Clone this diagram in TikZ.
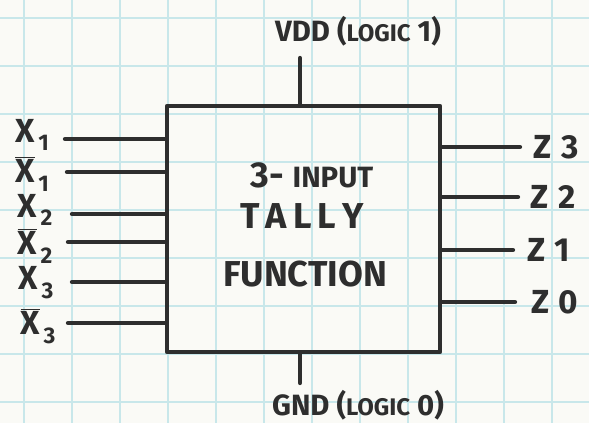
\documentclass[tikz,border=0pt]{standalone}
\usepackage{fontspec}
\setmainfont{Fira Sans}
\definecolor{paper}{HTML}{FAFAF6}
\definecolor{gridc}{HTML}{C8E7EA}
\definecolor{inkc}{HTML}{2E2E2E}
\begin{document}
\begin{tikzpicture}[x=0.75pt,y=-0.75pt,
  ink/.style={draw=inkc, line width=3.2pt, line cap=round, line join=round},
  lbl/.style={text=inkc, inner sep=0pt, font=\bfseries\fontsize{25}{28}\selectfont},
  ctr/.style={text=inkc, inner sep=0pt, font=\bfseries\fontsize{27}{30}\selectfont},
  pwr/.style={text=inkc, inner sep=0pt, font=\bfseries\fontsize{22}{26}\selectfont}]
\useasboundingbox (0,0) rectangle (589,423);
\fill[paper] (0,0) rectangle (589,423);
\foreach \x in {24,72,...,570} \draw[gridc, line width=0.9pt] (\x,0) -- (\x,423);
\foreach \y in {18,66,...,420} \draw[gridc, line width=0.9pt] (0,\y) -- (589,\y);
% box
\node[ink, minimum width=204.75pt, minimum height=184.5pt, inner sep=0pt] (box) at (303.5,229) {};
\node[ctr] (t1) at (312,175) {3- {\fontsize{22}{26}\selectfont INPUT}};
\node[ctr] (t2) at (302,216) {T\,A\,L\,L\,Y};
\node[ctr] (t3) at (305,274) {FUNCTION};
% power
\coordinate (vdd) at (300,58);
\coordinate (gnd) at (300,383);
\draw[ink] (vdd) -- (vdd |- box.north);
\draw[ink] (gnd) -- (gnd |- box.south);
\node[pwr] (vddl) at (358,31) {VDD ({\fontsize{18}{20}\selectfont LOGIC} 1)};
\node[pwr] (gndl) at (358,405) {GND ({\fontsize{18}{20}\selectfont LOGIC} 0)};
% inputs
\foreach \n/\y/\xs in {1/139/65, 2/172/67, 3/214/72, 4/242/68, 5/282/72, 6/323/68}{
  \coordinate (in\n) at (\xs,\y);
  \draw[ink] (in\n) -- (in\n -| box.west);
}
\node[lbl] (x1) at (32,135) {X{\raisebox{-0.5ex}{\fontsize{17}{20}\selectfont\,1}}};
\node[lbl] (x1b) at (32,174) {$\overline{\mbox{X}}${\raisebox{-0.5ex}{\fontsize{17}{20}\selectfont\,1}}};
\node[lbl] (x2) at (35,210) {X{\raisebox{-0.5ex}{\fontsize{17}{20}\selectfont\,2}}};
\node[lbl] (x2b) at (35,246) {$\overline{\mbox{X}}${\raisebox{-0.5ex}{\fontsize{17}{20}\selectfont\,2}}};
\node[lbl] (x3) at (36,283) {X{\raisebox{-0.5ex}{\fontsize{17}{20}\selectfont\,3}}};
\node[lbl] (x3b) at (38,326) {$\overline{\mbox{X}}${\raisebox{-0.5ex}{\fontsize{17}{20}\selectfont\,3}}};
% outputs
\foreach \n/\y/\xe in {3/147/520, 2/197/518, 1/250/513, 0/302/515}{
  \coordinate (out\n) at (\xe,\y);
  \draw[ink] (out\n -| box.east) -- (out\n);
}
\node[lbl] (z3) at (556,147) {Z\;3};
\node[lbl] (z2) at (553,197) {Z\;2};
\node[lbl] (z1) at (549,250) {Z\;1};
\node[lbl] (z0) at (555,302) {Z\;0};
\end{tikzpicture}
\end{document}
